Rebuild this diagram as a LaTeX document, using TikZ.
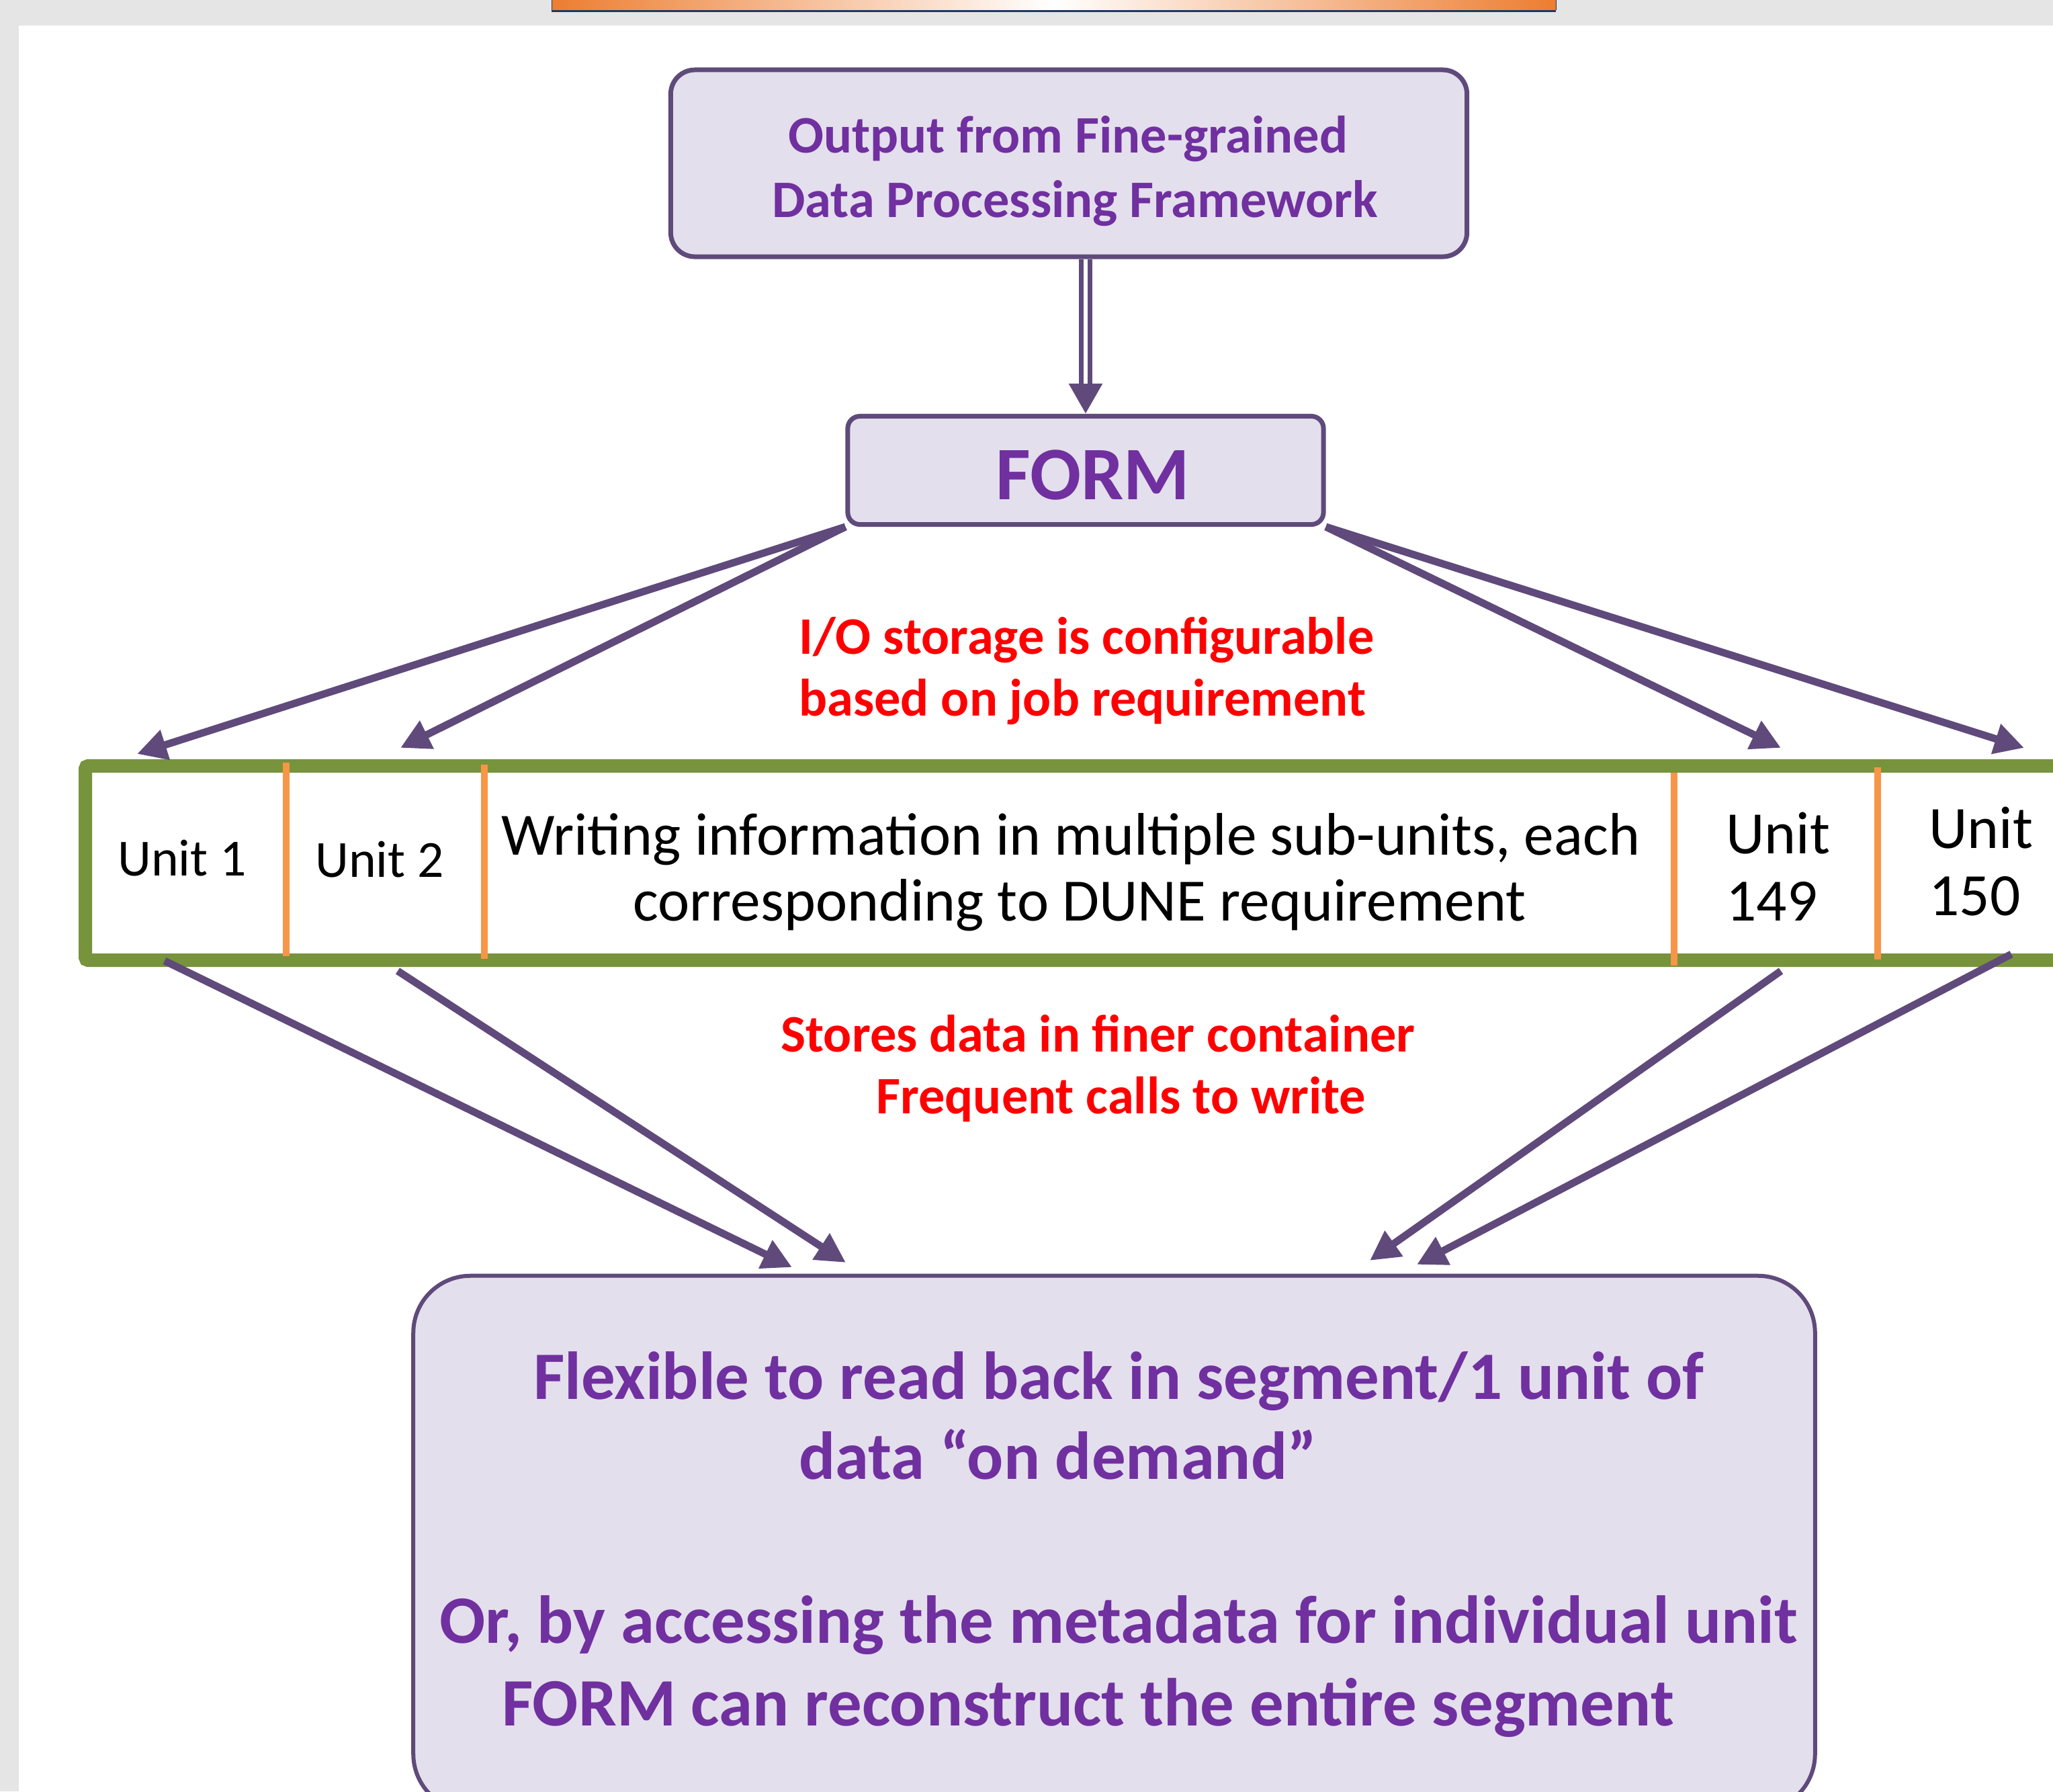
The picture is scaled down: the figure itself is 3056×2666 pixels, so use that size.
\documentclass[tikz,border=0pt]{standalone}
\usepackage{fontspec}
\setmainfont{Carlito}
\usetikzlibrary{arrows.meta,calc}
\definecolor{boxline}{HTML}{5F4A7B}
\definecolor{boxfill}{HTML}{E4DFEC}
\definecolor{txtpurple}{HTML}{7030A0}
\definecolor{txtred}{HTML}{FF0000}
\definecolor{storegreen}{HTML}{77933C}
\definecolor{divorange}{HTML}{F79646}
\definecolor{pagegray}{HTML}{E5E5E5}
\definecolor{barorange}{HTML}{ED7D31}
\definecolor{barnavy}{HTML}{1F3864}
\newcommand\myfs[2]{\fontsize{#1}{#2}\selectfont}
\begin{document}
\begin{tikzpicture}[x=0.025cm,y=-0.025cm,
  box/.style={draw=boxline, fill=boxfill, line width=0.175cm, inner sep=0pt},
  lbl/.style={inner sep=0pt, anchor=base west},
  ptext/.style={lbl, text=txtpurple, font=\bfseries\myfs{55.8pt}{67pt}},
  rtext/.style={lbl, text=txtred, font=\bfseries\myfs{55.8pt}{67pt}},
  btext/.style={lbl, text=txtpurple, font=\bfseries\myfs{71.8pt}{86pt}},
  ktext/.style={lbl, text=black, font=\myfs{63.6pt}{76pt}},
  utext/.style={lbl, text=black, font=\myfs{55.2pt}{66pt}},
  link/.style={draw=boxline, line width=0.275cm, -{Triangle[length=1.1cm,width=1.1cm]}},
  divider/.style={draw=divorange, line width=0.25cm},
]
\useasboundingbox (0,0) rectangle (3056,2666);
\clip (0,0) rectangle (3056,2666);
% page background
\fill[pagegray] (0,0) rectangle (3056,2666);
\fill[white] (28,38) rectangle (3100,2700);
% orange title bar remnant
\shade[left color=barorange, right color=barorange, middle color=white] (821,-5) rectangle (2316,15);
\draw[barnavy, line width=0.02cm] (821,-5) -- (821,15) (2316,-5) -- (2316,15);
\draw[barnavy, line width=0.075cm] (821,16) -- (2316,16);

% boxes
\node[box, rounded corners=0.9cm, minimum width=29.625cm, minimum height=6.95cm] (top) at (1591,243) {};
\node[box, rounded corners=0.45cm, minimum width=17.7cm, minimum height=4.025cm] (form) at (1616,700) {};
\node[draw=storegreen, line width=0.5cm, rounded corners=0.1cm, minimum width=74.81cm, minimum height=7.225cm, inner sep=0pt] (store) at (1623.75,1284.5) {};
\node[box, line width=0.15cm, rounded corners=2.125cm, minimum width=52.15cm, minimum height=19.91cm] (bot) at (1658.5,2297) {};

% dividers between units
\draw[divider] (426,1135) -- (426,1423);
\draw[divider] (721,1138) -- (721,1427);
\draw[divider] (2492,1150) -- (2492,1437);
\draw[divider] (2795,1142) -- (2795,1428);

% texts
\node[ptext] (t1) at (1173,227) {Output from Fine-grained};
\node[ptext] (t2) at (1149,323) {Data Processing Framework};
\node[lbl, text=txtpurple, font=\bfseries\myfs{80pt}{96pt}] (formlbl) at (1482,743) {FORM};
\node[rtext] (r1) at (1189,973) {I/O storage is configurable};
\node[rtext] (r2) at (1189,1065) {based on job requirement};
\node[rtext] (r3) at (1162,1565) {Stores data in finer container};
\node[rtext] (r4) at (1304,1657) {Frequent calls to write};
\node[utext] (u1) at (175,1303) {Unit 1};
\node[utext] (u2) at (469,1305) {Unit 2};
\node[ktext] (m1) at (746,1272) {Writing information in multiple sub-units, each};
\node[ktext] (m2) at (942,1370) {corresponding to DUNE requirement};
\node[ktext] (u149a) at (2569,1270) {Unit};
\node[ktext] (u149b) at (2569,1370) {149};
\node[ktext] (u150a) at (2871,1262) {Unit};
\node[ktext] (u150b) at (2871,1362) {150};
\node[btext] (b1) at (794,2082) {Flexible to read back in segment/1 unit of};
\node[btext] (b2) at (1189,2201) {data “on demand”};
\node[btext] (b3) at (654,2445) {Or, by accessing the metadata for individual unit};
\node[btext] (b4) at (747,2568) {FORM can reconstruct the entire segment};

% double arrow from top box to FORM
\draw[draw=boxline, line width=0.5cm, -{Triangle[length=1.125cm,width=1.175cm]}] (top.south -| form.north) -- (form.north);
\draw[white, line width=0.15cm, shorten >=1.125cm] (top.south -| form.north) -- (form.north);

% arrow end points
\coordinate (tE) at (204,1122);
\coordinate (tF) at (596,1113);
\coordinate (tG) at (2651,1113);
\coordinate (tH) at (3013,1113);
\coordinate (sA) at (245,1430);
\coordinate (sB) at (592,1445);
\coordinate (sC) at (2651,1445);
\coordinate (sD) at (2994,1420);
\coordinate (tA) at (1179,1886);
\coordinate (tB) at (1259,1879);
\coordinate (tC) at (2039,1876);
\coordinate (tD) at (2109,1882);

% arrows FORM -> units
\draw[link] (form.south west) -- (tE);
\draw[link] (form.south west) -- (tF);
\draw[link] (form.south east) -- (tG);
\draw[link] (form.south east) -- (tH);
% arrows units -> bottom box
\draw[link] (sA) -- (tA);
\draw[link] (sB) -- (tB);
\draw[link] (sC) -- (tC);
\draw[link] (sD) -- (tD);
\end{tikzpicture}
\end{document}
